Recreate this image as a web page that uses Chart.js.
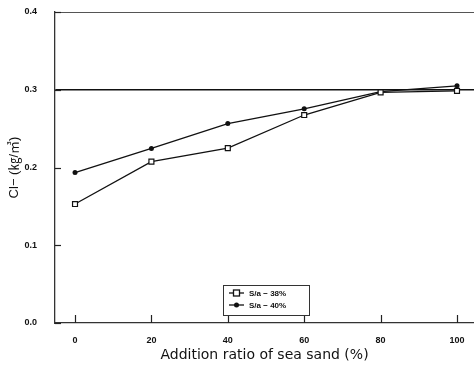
<!DOCTYPE html>
<html>
<head>
<meta charset="utf-8">
<script src="https://cdn.jsdelivr.net/npm/chart.js@4/dist/chart.umd.min.js"></script>
<style>
html,body{margin:0;padding:0;background:#fff;}
#wrap{width:474px;height:369px;position:relative;}
</style>
</head>
<body>
<div id="wrap"><canvas id="c" width="474" height="369"></canvas></div>
<script>
const categories = [0, 20, 40, 60, 80, 100];
const sa38 = [0.153, 0.2075, 0.225, 0.2675, 0.2965, 0.2985];
const sa40 = [0.1935, 0.2245, 0.2565, 0.2755, 0.2975, 0.305];
const xTicks = [0, 20, 40, 60, 80, 100];
const yTicks = [0.0, 0.1, 0.2, 0.3, 0.4];
const seriesLabels = ['S/a \u2212 38%', 'S/a \u2212 40%'];

const inwardTicks = {
  id: 'inwardTicks',
  afterDatasetsDraw(chart) {
    const {ctx, chartArea, scales} = chart;
    ctx.save();
    ctx.strokeStyle = '#222';
    ctx.lineWidth = 1.2;
    xTicks.forEach(v => {
      const px = Math.round(scales.x.getPixelForValue(v)) + 0.5;
      ctx.beginPath();
      ctx.moveTo(px, chartArea.bottom);
      ctx.lineTo(px, chartArea.bottom - 8);
      ctx.stroke();
    });
    yTicks.forEach(v => {
      const py = Math.round(scales.y.getPixelForValue(v)) + 0.5;
      ctx.beginPath();
      ctx.moveTo(chartArea.left, py);
      ctx.lineTo(chartArea.left + 6, py);
      ctx.stroke();
    });
    ctx.restore();
  }
};

const boxLegend = {
  id: 'boxLegend',
  afterDraw(chart) {
    const {ctx, chartArea} = chart;
    const bx = chartArea.left + 168, by = chartArea.top + 273, bw = 86, bh = 30;
    ctx.save();
    ctx.fillStyle = '#fff';
    ctx.fillRect(bx, by, bw, bh);
    ctx.strokeStyle = '#333';
    ctx.lineWidth = 1;
    ctx.strokeRect(bx + 0.5, by + 0.5, bw, bh);
    chart.data.datasets.forEach((ds, i) => {
      const y = by + 8 + i * 12;
      ctx.strokeStyle = '#111';
      ctx.lineWidth = 1.3;
      ctx.beginPath();
      ctx.moveTo(bx + 6, y);
      ctx.lineTo(bx + 21, y);
      ctx.stroke();
      const cx = bx + 13.5;
      if (ds.pointStyle === 'rect') {
        ctx.fillStyle = '#fff';
        ctx.fillRect(cx - 3, y - 3, 6, 6);
        ctx.strokeRect(cx - 3, y - 3, 6, 6);
      } else {
        ctx.fillStyle = '#111';
        ctx.beginPath();
        ctx.arc(cx, y, 2.5, 0, Math.PI * 2);
        ctx.fill();
      }
      ctx.fillStyle = '#111';
      ctx.font = 'bold 8px "Liberation Sans", Arial, sans-serif';
      ctx.textBaseline = 'middle';
      ctx.textAlign = 'left';
      ctx.fillText(ds.label, bx + 26, y + 0.5);
    });
    ctx.restore();
  }
};

new Chart(document.getElementById('c'), {
  type: 'line',
  data: {
    datasets: [
      {
        label: seriesLabels[0],
        data: categories.map((c, i) => ({x: c, y: sa38[i]})),
        borderColor: '#111',
        borderWidth: 1.3,
        pointStyle: 'rect',
        pointRadius: 3.5,
        pointBackgroundColor: '#fff',
        pointBorderColor: '#111',
        pointBorderWidth: 1.2,
        tension: 0
      },
      {
        label: seriesLabels[1],
        data: categories.map((c, i) => ({x: c, y: sa40[i]})),
        borderColor: '#111',
        borderWidth: 1.3,
        pointStyle: 'circle',
        pointRadius: 2.5,
        pointBackgroundColor: '#111',
        pointBorderColor: '#111',
        pointBorderWidth: 0,
        tension: 0
      }
    ]
  },
  options: {
    responsive: false,
    animation: false,
    devicePixelRatio: 1,
    layout: {autoPadding: false, padding: {top: 12, right: 0, left: 0, bottom: 0}},
    plugins: {legend: {display: false}, tooltip: {enabled: false}},
    scales: {
      x: {
        type: 'linear',
        min: -5.24,
        max: 104.45,
        afterBuildTicks: s => { s.ticks = xTicks.map(v => ({value: v})); },
        afterFit: s => { s.height = 46; s.paddingLeft = 0; s.paddingRight = 0; },
        grid: {display: false, drawTicks: false},
        border: {display: true, color: '#333', width: 1.3},
        ticks: {
          padding: 12,
          color: '#111',
          font: {family: '"Liberation Sans", Arial, sans-serif', size: 9, weight: 'bold'},
          maxRotation: 0
        },
        title: {
          display: true,
          text: 'Addition ratio of sea sand (%)',
          color: '#111',
          font: {family: '"DejaVu Sans", sans-serif', size: 14},
          padding: {top: 0, bottom: 5}
        }
      },
      y: {
        min: 0,
        max: 0.4,
        afterBuildTicks: s => { s.ticks = yTicks.map(v => ({value: v})); },
        afterFit: s => { s.width = 55; s.paddingTop = 0; s.paddingBottom = 0; },
        grid: {
          drawTicks: false,
          color: ctx => {
            const v = ctx.tick ? Math.round(ctx.tick.value * 10) : -1;
            if (v === 3) return '#111';
            if (v === 4) return '#555';
            return 'rgba(0,0,0,0)';
          },
          lineWidth: ctx => (ctx.tick && Math.round(ctx.tick.value * 10) === 3) ? 1.4 : 1
        },
        border: {display: true, color: '#333', width: 1.3},
        ticks: {
          padding: 18,
          color: '#111',
          font: {family: '"Liberation Sans", Arial, sans-serif', size: 9, weight: 'bold'},
          callback: v => Number(v).toFixed(1)
        },
        title: {
          display: true,
          text: 'Cl\u2212 (\u338F/\u33A5)',
          color: '#111',
          font: {family: '"Liberation Sans", "Noto Sans CJK KR", sans-serif', size: 13},
          padding: {top: 7, bottom: 0}
        }
      }
    }
  },
  plugins: [inwardTicks, boxLegend]
});
</script>
</body>
</html>
